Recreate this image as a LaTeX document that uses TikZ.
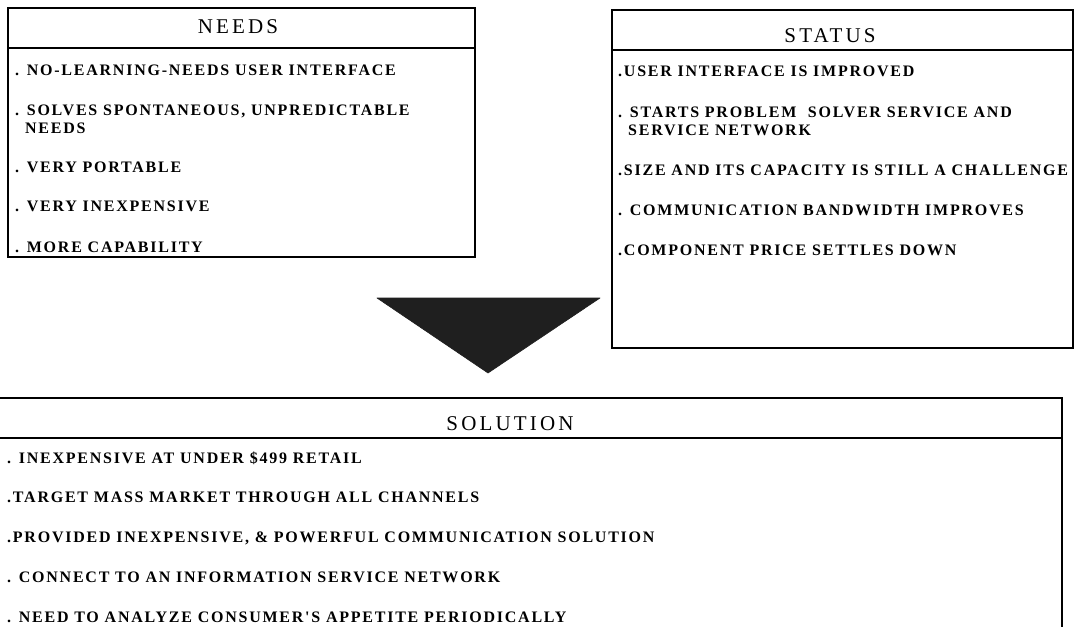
\documentclass[tikz,border=0pt]{standalone}
\usepackage{fontspec}
\setmainfont{Liberation Serif}
\newfontfamily\bodyfont[LetterSpace=11]{Liberation Serif}
\newfontfamily\titlefont[LetterSpace=15]{Liberation Serif}
\begin{document}
\begin{tikzpicture}[x=1pt,y=-1pt,
  frame/.style={draw=black,line width=1.6pt},
  rule/.style={draw=black,line width=1.8pt},
  item/.style={anchor=west,inner sep=0pt,text height=10pt,text depth=0pt,
    font=\bodyfont\bfseries\fontsize{16}{18}\selectfont},
  head/.style={anchor=center,inner sep=0pt,text height=14pt,text depth=0pt,
    font=\titlefont\fontsize{21}{24}\selectfont},
  arrowfill/.style={fill=black!88,draw=black!88,line width=0.6pt,line join=round}]
\useasboundingbox (0,0) rectangle (1075,626);
\clip (0,0) rectangle (1075,626);
\fill[white] (0,0) rectangle (1075,626);

% NEEDS box
\draw[frame] (8,8) rectangle (475,257);
\draw[rule] (8,48) -- (475,48);
\node[head] (needsT) at (238,27) {NEEDS};
\node[item] (n1) at (15,70) {. NO-LEARNING-NEEDS USER INTERFACE};
\node[item] (n2) at (15,110) {. SOLVES SPONTANEOUS, UNPREDICTABLE};
\node[item] (n2b) at (25,128) {NEEDS};
\node[item] (n3) at (15,167) {. VERY PORTABLE};
\node[item] (n4) at (15,206) {. VERY INEXPENSIVE};
\node[item] (n5) at (15,247) {. MORE CAPABILITY};

% STATUS box
\draw[frame] (612,10) rectangle (1073,348);
\draw[rule] (612,50) -- (1073,50);
\node[head] (statusT) at (830,36) {STATUS};
\node[item] (s1) at (618,72) {.USER INTERFACE IS IMPROVED};
\node[item] (s2) at (618,112) {. STARTS PROBLEM\ \ SOLVER SERVICE AND};
\node[item] (s2b) at (628,130) {SERVICE NETWORK};
\node[item] (s3) at (618,170) {.SIZE AND ITS CAPACITY IS STILL A CHALLENGE};
\node[item] (s4) at (618,210) {. COMMUNICATION BANDWIDTH IMPROVES};
\node[item] (s5) at (618,250) {.COMPONENT PRICE SETTLES DOWN};

% arrow
\coordinate (tl) at (377,298);
\coordinate (tr) at (600,298);
\coordinate (tip) at (488,373);
\fill[arrowfill] (tl) -- (tr) -- (tip) -- cycle;

% SOLUTION box
\draw[frame] (-2,398) rectangle (1062,640);
\draw[rule] (-2,438) -- (1062,438);
\node[head] (solT) at (510,423) {SOLUTION};
\node[item] (o1) at (7,458) {. INEXPENSIVE AT UNDER \$499 RETAIL};
\node[item] (o2) at (7,497) {.TARGET MASS MARKET THROUGH ALL CHANNELS};
\node[item] (o3) at (7,537) {.PROVIDED INEXPENSIVE, \& POWERFUL COMMUNICATION SOLUTION};
\node[item] (o4) at (7,577) {. CONNECT TO AN INFORMATION SERVICE NETWORK};
\node[item] (o5) at (7,617) {. NEED TO ANALYZE CONSUMER'S APPETITE PERIODICALLY};
\end{tikzpicture}
\end{document}
